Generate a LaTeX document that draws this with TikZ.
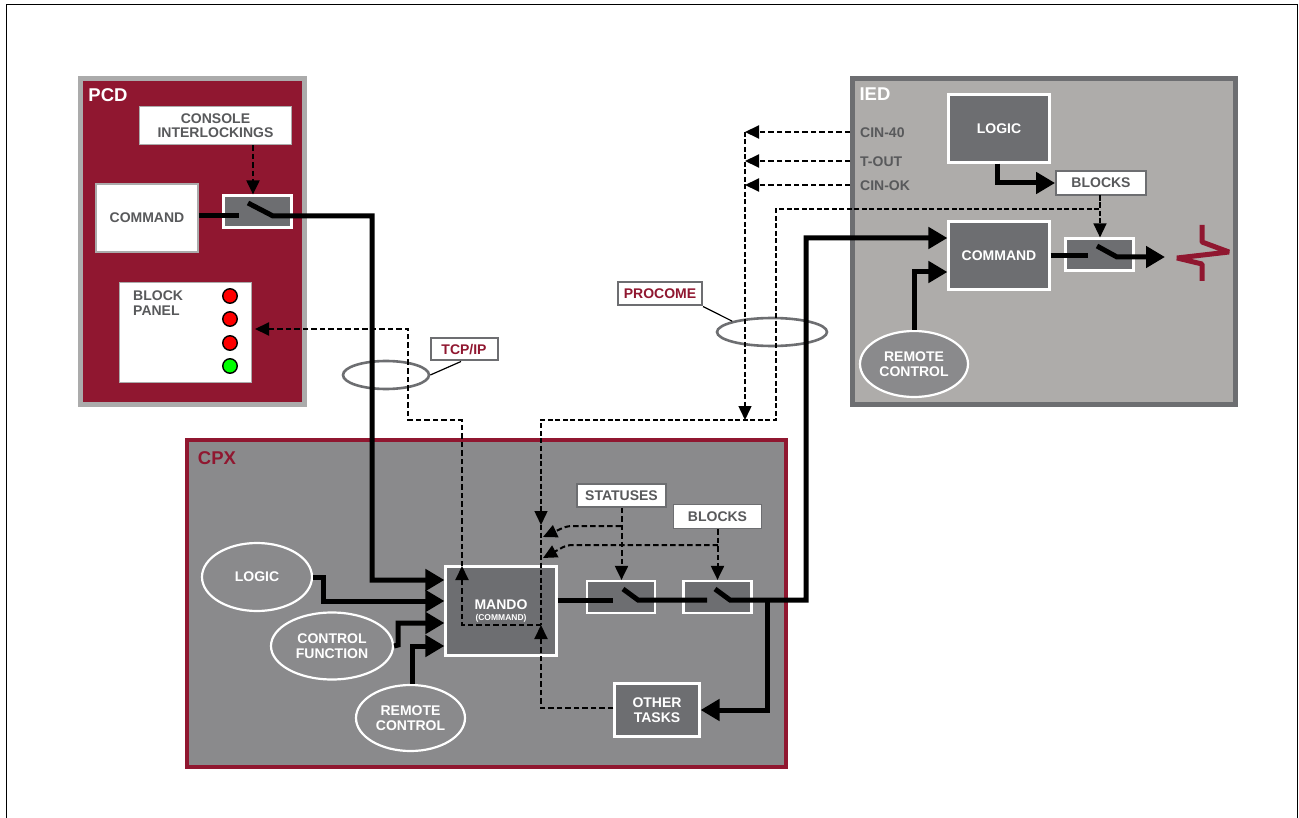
\documentclass[tikz,border=0pt]{standalone}
\usepackage{fontspec}
\setmainfont{Liberation Sans}
\usepackage{tikz}
\usetikzlibrary{arrows.meta,positioning,shapes.geometric,calc}
\definecolor{maroon}{HTML}{901730}
\definecolor{slate}{HTML}{6D6E71}
\definecolor{ash}{HTML}{AEACAA}
\definecolor{steel}{HTML}{8A8A8C}
\definecolor{pale}{HTML}{ABABAB}
\definecolor{ink}{HTML}{58595B}

\begin{document}
\begin{tikzpicture}[
  x=1pt,y=-1pt,
  font=\bfseries\fontsize{14}{14.5}\selectfont,
  panel/.style={line width=5pt,inner sep=0pt,outer sep=0pt},
  dark/.style={draw=white,line width=2.2pt,fill=slate,text=white,align=center,inner sep=0pt},
  light/.style={draw=pale,line width=1.8pt,fill=white,text=ink,align=center,inner sep=0pt},
  tag/.style={draw=slate,line width=2pt,fill=white,text=maroon,align=center,inner sep=0pt},
  oval/.style={ellipse,draw=white,line width=2.2pt,fill=steel,text=white,align=center,inner sep=0pt},
  ring/.style={ellipse,draw=slate,line width=2.6pt,inner sep=0pt},
  led/.style={circle,draw=black,line width=1.4pt,minimum size=14.5pt,inner sep=0pt},
  heavy/.style={line width=5pt,draw=black},
  flow/.style={heavy,-{Triangle[length=19pt,width=21pt]}},
  signal/.style={line width=2pt,draw=black,dash pattern=on 5.5pt off 3pt},
  signalto/.style={signal,-{Triangle[length=14pt,width=13pt]}},
  thin signal/.style={line width=1.5pt,draw=black,dash pattern=on 5pt off 2.5pt},
  thin signalto/.style={thin signal,-{Triangle[length=14pt,width=13pt]}},
  title/.style={font=\bfseries\fontsize{18.5}{20}\selectfont,inner sep=0pt}
]
  \useasboundingbox (0,0) rectangle (1299,818);
  \draw[line width=1pt] (6,818) |- (1297,5) -- (1297,818);

  % boxes
  \node[panel,draw=pale,fill=maroon,minimum width=224pt,minimum height=326pt] (pcd) at (192.5,241.5) {};
  \node[panel,draw=slate,fill=ash,minimum width=383pt,minimum height=326pt] (ied) at (1044,241.5) {};
  \node[panel,draw=maroon,fill=steel,line width=4.5pt,minimum width=599pt,minimum height=327pt] (cpx) at (486.5,603.5) {};
  \node[title,text=white] (pcdname) at (108,95) {PCD};
  \node[title,text=white] (iedname) at (875,94) {IED};
  \node[title,text=maroon] (cpxname) at (217,458) {CPX};

  % PCD
  \node[light,minimum width=152pt,minimum height=38pt] (console) at (215.5,125.5) {CONSOLE\\INTERLOCKINGS};
  \node[light,minimum width=102pt,minimum height=68pt] (pcdcmd) at (147,218) {COMMAND};
  \node[dark,minimum width=68pt,minimum height=32pt] (pcdsw) at (257.5,211.5) {};
  \node[light,minimum width=132pt,minimum height=100pt] (blockpanel) at (185.5,332.5) {};
  \node[text=ink,align=left,inner sep=0pt,anchor=north west] (blocktext) at (133,291) {BLOCK\\PANEL};
  \node[led,fill=red] (led1) at (230,296) {};
  \node[led,fill=red] (led2) at (230,319) {};
  \node[led,fill=red] (led3) at (230,343) {};
  \node[led,fill=green] (led4) at (230,366) {};

  % IED
  \node[dark,minimum width=101pt,minimum height=68pt] (iedlogic) at (999,128.5) {LOGIC};
  \node[light,draw=slate,minimum width=90pt,minimum height=24pt] (iedblocks) at (1101,183) {BLOCKS};
  \node[dark,minimum width=101pt,minimum height=68pt] (iedcmd) at (999,255.5) {COMMAND};
  \node[dark,minimum width=68pt,minimum height=32pt] (iedsw) at (1099.5,254.5) {};
  \node[oval,fill=steel,minimum width=108pt,minimum height=66pt] (iedremote) at (914,364) {REMOTE\\CONTROL};
  \node[text=ink,anchor=west,inner sep=0pt] (cin40) at (860,133) {CIN-40};
  \node[text=ink,anchor=west,inner sep=0pt] (tout) at (860,162) {T-OUT};
  \node[text=ink,anchor=west,inner sep=0pt] (cinok) at (860,186) {CIN-OK};

  % CPX
  \node[oval,minimum width=110pt,minimum height=68pt] (logic) at (257,577) {LOGIC};
  \node[oval,minimum width=122pt,minimum height=67pt] (control) at (332,646) {CONTROL\\FUNCTION};
  \node[oval,minimum width=109pt,minimum height=66pt] (remote) at (410.5,718) {REMOTE\\CONTROL};
  \node[dark,minimum width=111pt,minimum height=89pt] (mando) at (501,611) {MANDO\\[-4pt]{\fontsize{8.5}{8.5}\selectfont(COMMAND)}};
  \node[dark,minimum width=68pt,minimum height=32pt] (swa) at (621,597) {};
  \node[dark,minimum width=68pt,minimum height=32pt] (swb) at (717.5,597) {};
  \node[dark,minimum width=85pt,minimum height=53pt] (tasks) at (657,710) {OTHER\\TASKS};
  \node[light,draw=slate,minimum width=89pt,minimum height=23pt] (statuses) at (621.5,495.5) {STATUSES};
  \node[light,draw=slate,minimum width=88pt,minimum height=24pt] (blocks) at (717.5,516.5) {BLOCKS};

  % bus labels
  \node[tag,minimum width=67pt,minimum height=22pt] (tcp) at (464,349.5) {TCP/IP};
  \node[tag,minimum width=84pt,minimum height=23pt] (procome) at (660,294) {PROCOME};
  \node[ring,minimum width=86pt,minimum height=28pt] (tcpring) at (386,375) {};
  \node[ring,minimum width=110pt,minimum height=28pt] (procring) at (772,332) {};
  \draw[line width=1.2pt] (tcp.south) ++(-3,0) -- (tcpring.east);
  \draw[line width=1.2pt] (procome.south east) -- (procring.north west);

  % heavy lines
  \coordinate (mandoa) at (mando.west |- 0,580);
  \coordinate (mandob) at (mando.west |- 0,601);
  \coordinate (mandoc) at (mando.west |- 0,623);
  \coordinate (mandod) at (mando.west |- 0,646);
  \draw[heavy] (pcdcmd.east |- pcdsw) ++(0,4) -- ++(40,0);
  \draw[flow] (248,203) -- (273,216) -- (372,216) -- (372,580) -- (mandoa);
  \draw[flow] (logic.east) -- (323,577) -- (323,601) -- (mandob);
  \draw[flow] (control.east) -- (398,645) -- (398,623) -- (mandoc);
  \draw[flow] (remote.north -| 412,0) -- (412,646) -- (mandod);
  \draw[heavy] (mando.east |- 0,600) -- (613,600);
  \draw[heavy] (623,589) -- (638,600) -- (707,600);
  \draw[flow] (715,589) -- (730,600) -- (806,600) -- (806,238) -- (iedcmd.west |- 0,238);
  \draw[flow] (767,600) -- (767,710) -- (tasks.east);
  \draw[flow] (iedlogic.south -| 997,0) -- (997,183) -- (iedblocks.west);
  \draw[flow] (iedremote.north) -- (914,272) -- (iedcmd.west |- 0,272);
  \draw[heavy] (iedcmd.east |- 0,256) -- (1088,256);
  \draw[flow] (1097,246) -- (1117,257) -- (1165,257);
  \draw[line width=5pt,draw=maroon,line join=bevel] (1202,225) -- (1202,242) -- (1229,252) -- (1177,258) -- (1202,264) -- (1202,281);

  % dashed lines
  \draw[signalto] (console.south -| 253,0) -- (pcdsw.north -| 253,0);
  \draw[signalto] (541,625) -- (462,625) -- (462,566);
  \draw[signalto] (462,566) -- (462,420) -- (408,420) -- (408,329) -- (255,329);
  \draw[signalto] (tasks.west |- 0,708) -- (541,708) -- (541,625);
  \draw[signalto] (cin40.west) ++(-10,-1) -- (745,132);
  \draw[signalto] (tout.west) ++(-10,-1) -- (745,161);
  \draw[signalto] (cinok.west) ++(-10,-1) -- (745,185);
  \draw[thin signalto] (745,132) -- (745,420);
  \draw[thin signalto] (1100,195) -- (1100,209) -- (776,209) -- (776,420) -- (541,420) -- (541,525);
  \draw[thin signal] (541,525) -- (541,625);
  \draw[thin signalto] (iedblocks.south -| 1100,0) -- (iedsw.north -| 1100,0);
  \draw[signalto] (statuses.south) -- (swa.north -| statuses.south);
  \draw[signalto,rounded corners=5pt] (621,526) -- (567,526) -- (543,537);
  \draw[signalto] (blocks.south) -- (swb.north -| blocks.south);
  \draw[signalto,rounded corners=5pt] (718,545) -- (567,545) -- (543,558);
\end{tikzpicture}
\end{document}
